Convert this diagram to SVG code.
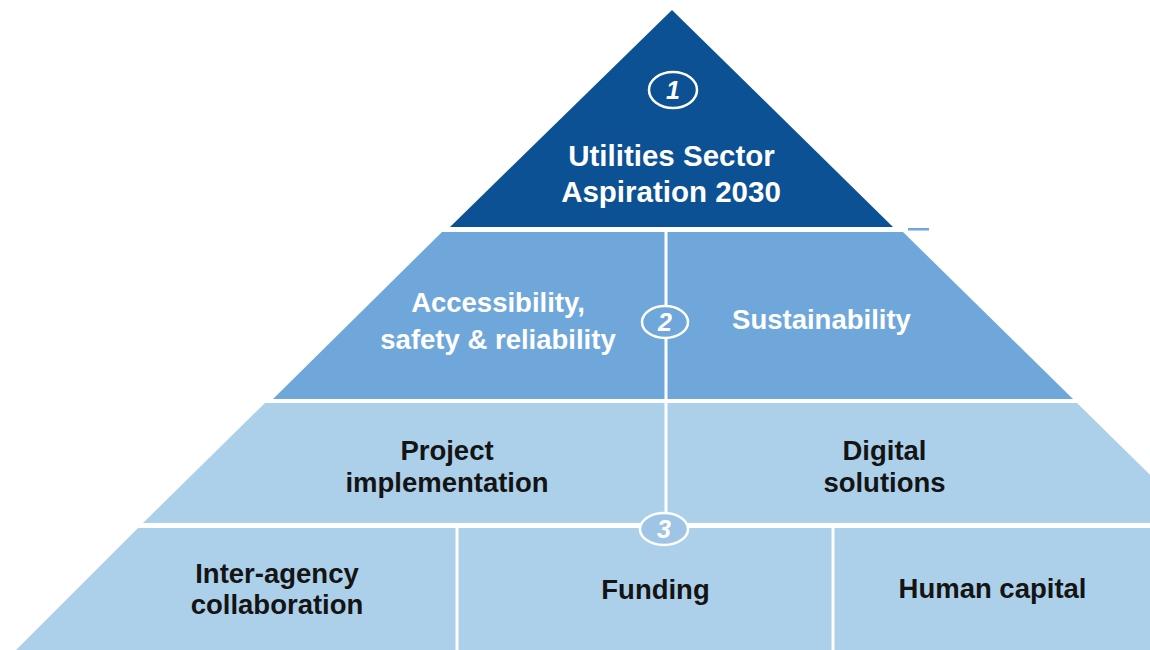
<svg xmlns="http://www.w3.org/2000/svg" width="1150" height="650" viewBox="0 0 1150 650">
<style>
.dark{fill:#0c5193}
.mid{fill:#70a7da}
.light{fill:#acd0e9}
.div{stroke:#ffffff;stroke-width:3;fill:none}
.ring{stroke:#ffffff;stroke-width:2.5}
.num{font-family:"Liberation Sans",Arial,sans-serif;font-weight:bold;font-style:italic;font-size:25px;fill:#ffffff;text-anchor:middle}
.tw{font-family:"Liberation Sans",Arial,sans-serif;font-weight:bold;font-size:27.5px;fill:#ffffff;text-anchor:middle}
.tt{font-family:"Liberation Sans",Arial,sans-serif;font-weight:bold;font-size:29.5px;fill:#ffffff;text-anchor:middle}
.tb{font-family:"Liberation Sans",Arial,sans-serif;font-weight:bold;font-size:27.5px;fill:#141414;text-anchor:middle}
</style>
<rect width="1150" height="650" fill="#ffffff"/>
<g id="level1">
<polygon class="dark" points="672,10 450,227 893,227"/>
<rect x="908" y="228" width="21" height="2.5" class="mid"/>
</g>
<g id="level2">
<polygon class="mid" points="442,232 903,232 1073,399 273,399"/>
</g>
<g id="level3">
<polygon class="light" points="265,403 1077,403 1199,523 143,523"/>
</g>
<g id="level4">
<polygon class="light" points="138,528 1205,528 1327,650 16,650"/>
</g>
<g id="connectors">
<line class="div" x1="666" y1="232" x2="666" y2="523"/>
<line class="div" x1="457" y1="528" x2="457" y2="650"/>
<line class="div" x1="833" y1="528" x2="833" y2="650"/>
</g>
<g id="aspiration">
<ellipse class="ring" cx="673" cy="90" rx="24" ry="18" fill="none"/>
<text class="num" x="673" y="99">1</text>
<text class="tt" x="671.5" y="166">Utilities Sector</text>
<text class="tt" x="671" y="202">Aspiration 2030</text>
</g>
<g id="accessibility">
<text class="tw" x="498" y="312">Accessibility,</text>
<text class="tw" x="498" y="349">safety &amp; reliability</text>
</g>
<g id="marker2">
<ellipse class="ring" cx="665" cy="322" rx="23" ry="16" fill="#70a7da"/>
<text class="num" x="665" y="331">2</text>
</g>
<g id="sustainability">
<text class="tw" x="821.5" y="329">Sustainability</text>
</g>
<g id="project">
<text class="tb" x="447" y="460">Project</text>
<text class="tb" x="447" y="492">implementation</text>
</g>
<g id="digital">
<text class="tb" x="884.5" y="460">Digital</text>
<text class="tb" x="884.5" y="492">solutions</text>
</g>
<g id="marker3">
<ellipse class="ring" cx="664" cy="529" rx="24" ry="16" fill="#9ec4e6"/>
<text class="num" x="664" y="538">3</text>
</g>
<g id="interagency">
<text class="tb" x="277" y="583">Inter-agency</text>
<text class="tb" x="277" y="614">collaboration</text>
</g>
<g id="funding">
<text class="tb" x="655.5" y="599">Funding</text>
</g>
<g id="humancapital">
<text class="tb" x="992.5" y="598">Human capital</text>
</g>
</svg>
